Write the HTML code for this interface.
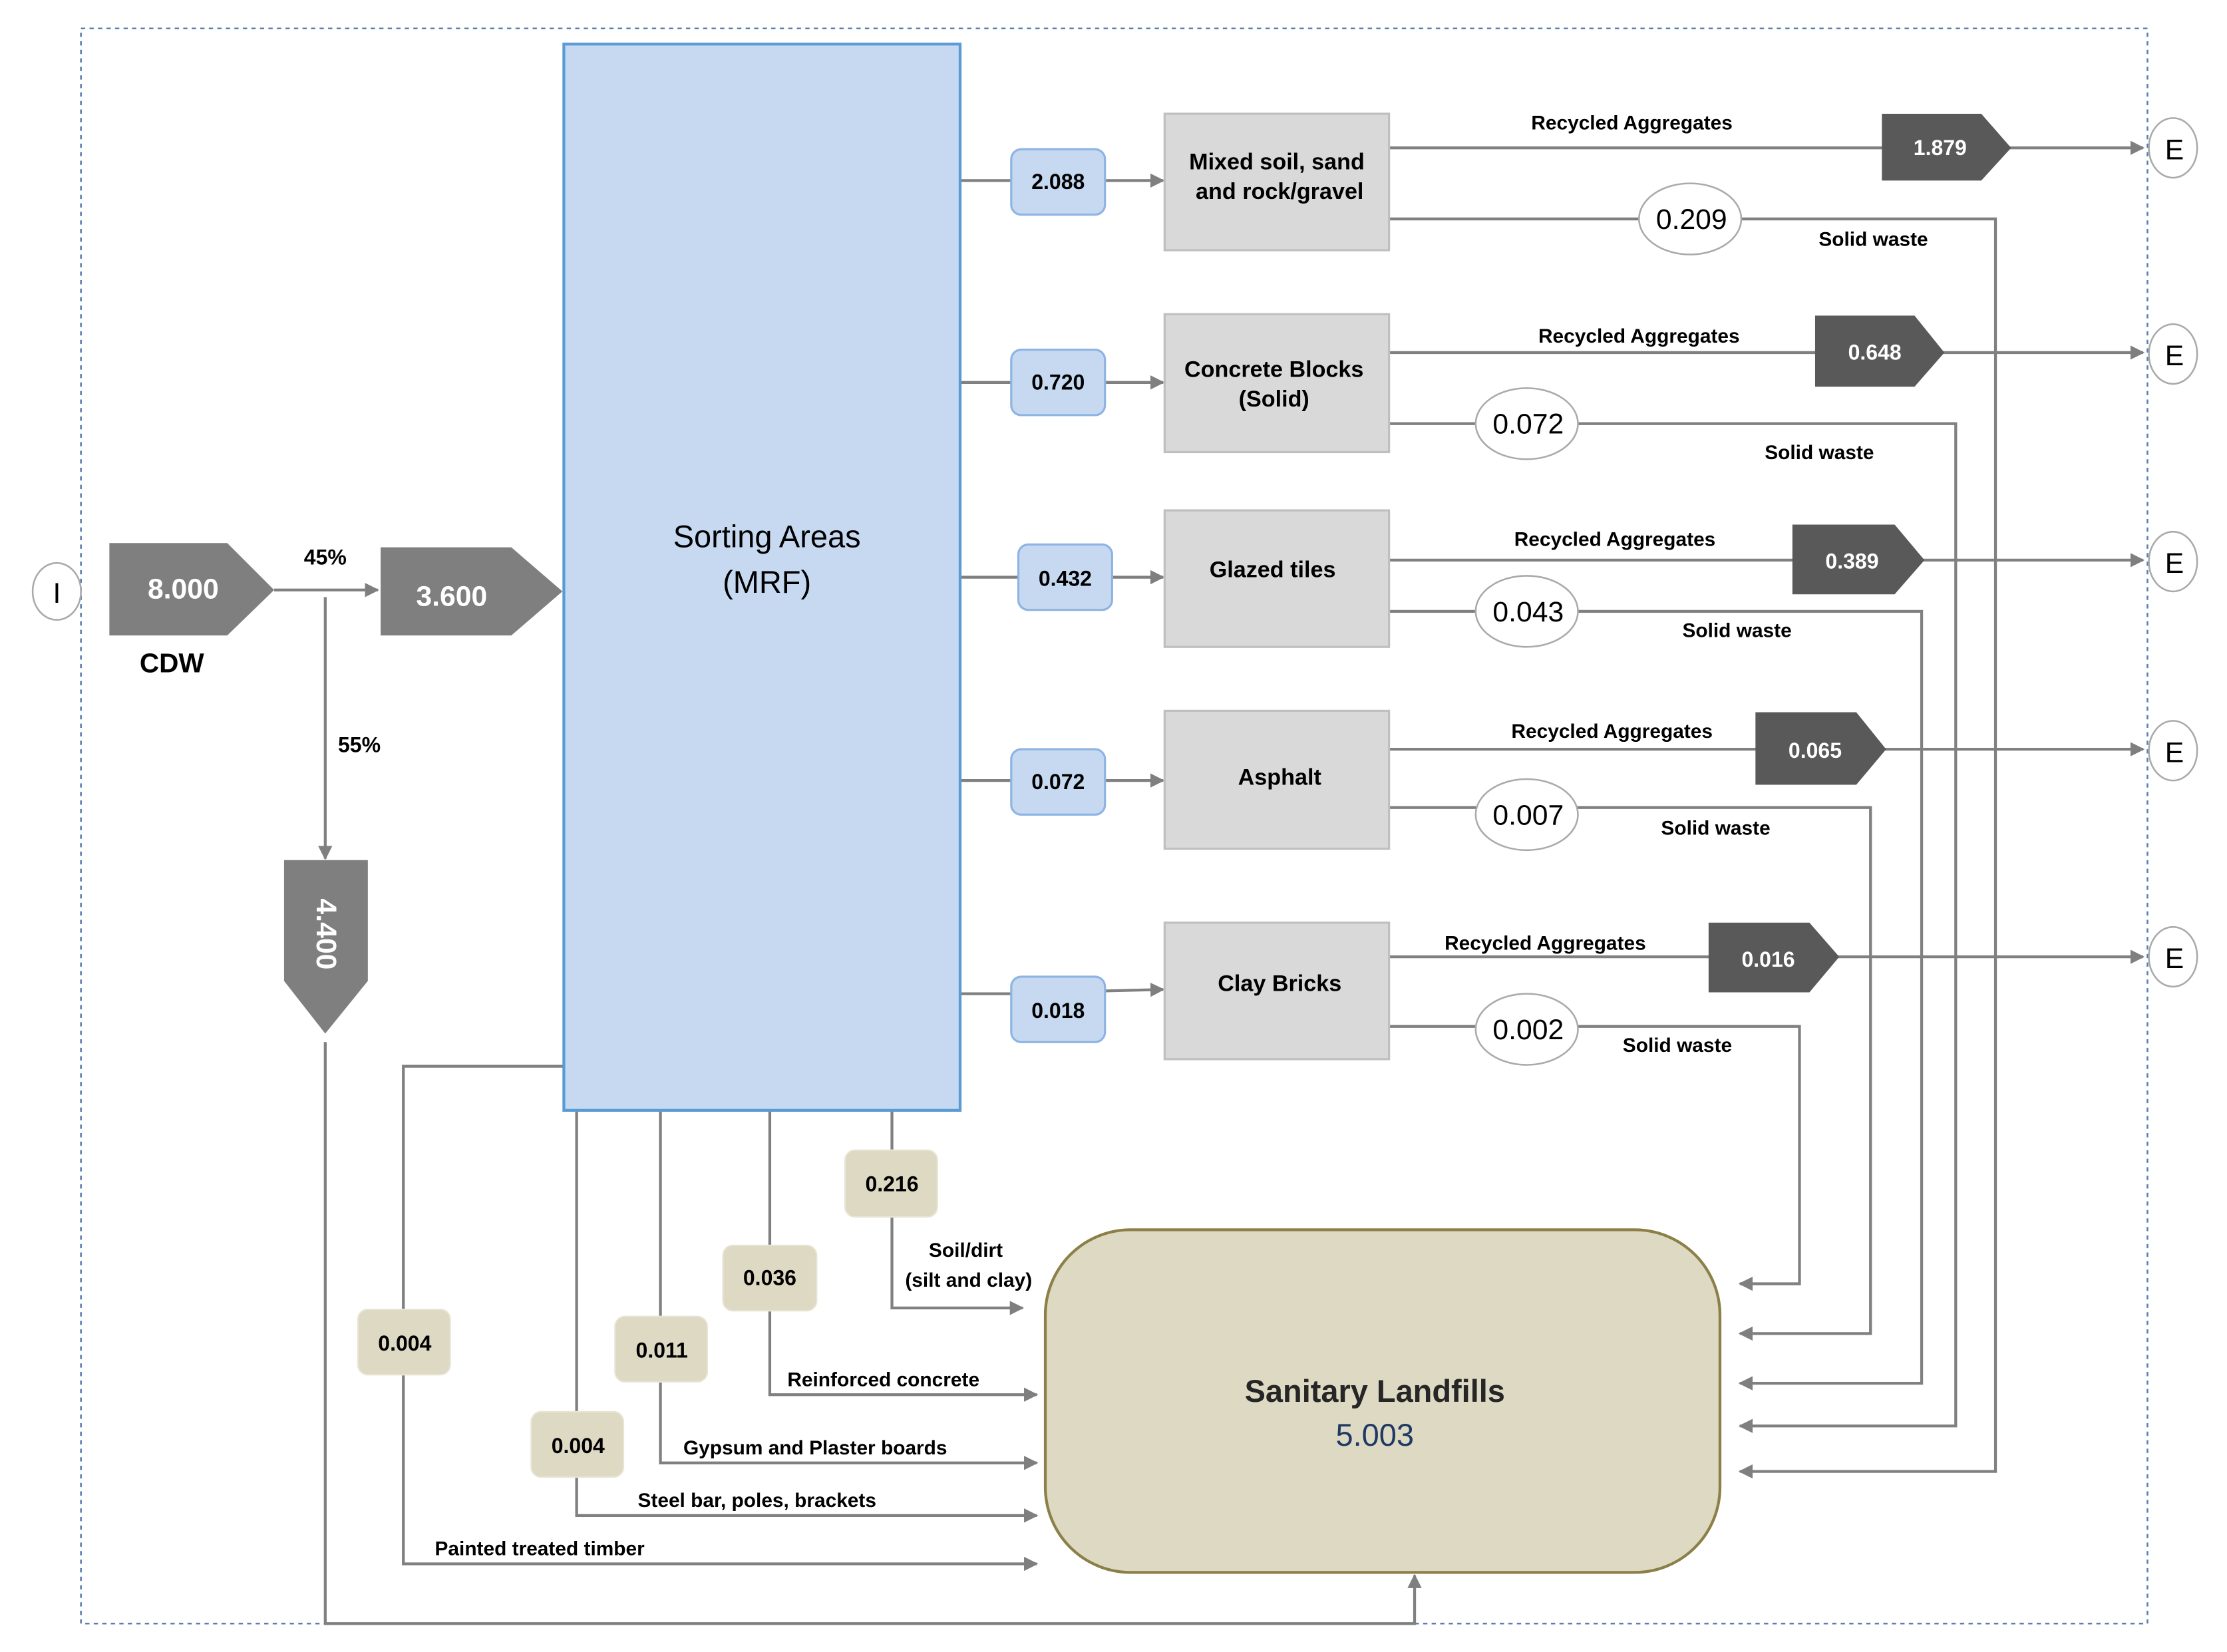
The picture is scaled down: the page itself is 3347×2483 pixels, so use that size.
<!DOCTYPE html>
<html><head><meta charset="utf-8"><style>
html,body{margin:0;padding:0;background:#fff;}
svg{display:block;}
text{font-family:"Liberation Sans",sans-serif;}
.b{font-weight:bold;}
</style></head><body>
<svg width="3347" height="2483" viewBox="0 0 1568 1162" preserveAspectRatio="none" xmlns="http://www.w3.org/2000/svg">
<defs>
<marker id="ar" markerWidth="10" markerHeight="10" refX="9" refY="5" orient="auto" markerUnits="userSpaceOnUse"><path d="M0,0 L10,5 L0,10 z" fill="#7f7f7f"/></marker>
</defs>
<rect x="57" y="20" width="1455" height="1122" fill="none" stroke="#5b7fb5" stroke-width="1.2" stroke-dasharray="3,3"/>

<g stroke="#808080" stroke-width="2" fill="none">
<line x1="193" y1="415" x2="266" y2="415" marker-end="url(#ar)"/>
<line x1="229" y1="420" x2="229" y2="604" marker-end="url(#ar)"/>
<polyline points="229,733 229,1142 996,1142 996,1108" marker-end="url(#ar)"/>
<line x1="676" y1="127" x2="712" y2="127"/><line x1="778" y1="127" x2="819" y2="127" marker-end="url(#ar)"/>
<line x1="676" y1="269" x2="712" y2="269"/><line x1="778" y1="269" x2="819" y2="269" marker-end="url(#ar)"/>
<line x1="676" y1="406" x2="717" y2="406"/><line x1="783" y1="406" x2="819" y2="406" marker-end="url(#ar)"/>
<line x1="676" y1="549" x2="712" y2="549"/><line x1="778" y1="549" x2="819" y2="549" marker-end="url(#ar)"/>
<line x1="676" y1="699" x2="712" y2="699"/><line x1="778" y1="697" x2="819" y2="696" marker-end="url(#ar)"/>
<line x1="978" y1="104" x2="1509" y2="104" marker-end="url(#ar)"/>
<line x1="978" y1="248" x2="1509" y2="248" marker-end="url(#ar)"/>
<line x1="978" y1="394" x2="1509" y2="394" marker-end="url(#ar)"/>
<line x1="978" y1="527" x2="1509" y2="527" marker-end="url(#ar)"/>
<line x1="978" y1="673" x2="1509" y2="673" marker-end="url(#ar)"/>
<polyline points="978,154 1405,154 1405,1035 1225,1035" marker-end="url(#ar)"/>
<polyline points="978,298 1377,298 1377,1003 1225,1003" marker-end="url(#ar)"/>
<polyline points="978,430 1353,430 1353,973 1225,973" marker-end="url(#ar)"/>
<polyline points="978,568 1317,568 1317,938 1225,938" marker-end="url(#ar)"/>
<polyline points="978,722 1267,722 1267,903 1225,903" marker-end="url(#ar)"/>
<polyline points="397,750 284,750 284,1100 730,1100" marker-end="url(#ar)"/>
<polyline points="406,781 406,1066 730,1066" marker-end="url(#ar)"/>
<polyline points="465,781 465,1029 730,1029" marker-end="url(#ar)"/>
<polyline points="542,781 542,981 730,981" marker-end="url(#ar)"/>
<polyline points="628,781 628,920 720,920" marker-end="url(#ar)"/>
</g>

<ellipse cx="40" cy="416" rx="17" ry="20" fill="#fff" stroke="#aaa" stroke-width="1.2"/>
<text x="40" y="424" font-size="20" text-anchor="middle">I</text>
<polygon points="77,382 160,382 193,415 160,447 77,447" fill="#7f7f7f"/>
<text x="129" y="421" font-size="20" fill="#fff" text-anchor="middle" class="b">8.000</text>
<text x="121" y="473" font-size="19" class="b" text-anchor="middle">CDW</text>
<text x="229" y="397" font-size="15" class="b" text-anchor="middle">45%</text>
<polygon points="268,385 360,385 396,416 360,447 268,447" fill="#7f7f7f"/>
<text x="318" y="426" font-size="20" fill="#fff" text-anchor="middle" class="b">3.600</text>
<text x="253" y="529" font-size="15" class="b" text-anchor="middle">55%</text>
<polygon points="200,605 259,605 259,690 229,727 200,690" fill="#7f7f7f"/>
<text transform="translate(223,657) rotate(90)" font-size="20" fill="#fff" text-anchor="middle" class="b">4.400</text>

<rect x="397" y="31" width="279" height="750" fill="#c6d9f1" stroke="#5b9bd5" stroke-width="2"/>
<text x="540" y="385" font-size="22" text-anchor="middle">Sorting Areas</text>
<text x="540" y="417" font-size="22" text-anchor="middle">(MRF)</text>

<g fill="#c6d9f1" stroke="#8eb4e3" stroke-width="1.5">
<rect x="712" y="105" width="66" height="46" rx="7"/>
<rect x="712" y="246" width="66" height="46" rx="7"/>
<rect x="717" y="383" width="66" height="46" rx="7"/>
<rect x="712" y="527" width="66" height="46" rx="7"/>
<rect x="712" y="687" width="66" height="46" rx="7"/>
</g>
<g font-size="15" class="b" text-anchor="middle">
<text x="745" y="133">2.088</text>
<text x="745" y="274">0.720</text>
<text x="750" y="412">0.432</text>
<text x="745" y="555">0.072</text>
<text x="745" y="716">0.018</text>
</g>

<g fill="#d9d9d9" stroke="#bfbfbf" stroke-width="1.5">
<rect x="820" y="80" width="158" height="96"/>
<rect x="820" y="221" width="158" height="97"/>
<rect x="820" y="359" width="158" height="96"/>
<rect x="820" y="500" width="158" height="97"/>
<rect x="820" y="649" width="158" height="96"/>
</g>
<g font-size="16" class="b" text-anchor="middle">
<text x="899" y="119">Mixed soil, sand</text>
<text x="901" y="140">and rock/gravel</text>
<text x="897" y="265">Concrete Blocks</text>
<text x="897" y="286">(Solid)</text>
<text x="896" y="406">Glazed tiles</text>
<text x="901" y="552">Asphalt</text>
<text x="901" y="697">Clay Bricks</text>
</g>

<g fill="#595959">
<polygon points="1325,80 1395,80 1416,104 1395,127 1325,127"/>
<polygon points="1278,222 1348,222 1369,248 1348,272 1278,272"/>
<polygon points="1262,369 1334,369 1355,394 1334,418 1262,418"/>
<polygon points="1236,501 1307,501 1328,527 1307,552 1236,552"/>
<polygon points="1203,649 1274,649 1295,673 1274,698 1203,698"/>
</g>
<g font-size="15" class="b" fill="#fff" text-anchor="middle">
<text x="1366" y="109">1.879</text>
<text x="1320" y="253">0.648</text>
<text x="1304" y="400">0.389</text>
<text x="1278" y="533">0.065</text>
<text x="1245" y="680">0.016</text>
</g>
<g font-size="14" class="b" text-anchor="middle">
<text x="1149" y="91">Recycled Aggregates</text>
<text x="1154" y="241">Recycled Aggregates</text>
<text x="1137" y="384">Recycled Aggregates</text>
<text x="1135" y="519">Recycled Aggregates</text>
<text x="1088" y="668">Recycled Aggregates</text>
<text x="1319" y="173">Solid waste</text>
<text x="1281" y="323">Solid waste</text>
<text x="1223" y="448">Solid waste</text>
<text x="1208" y="587">Solid waste</text>
<text x="1181" y="740">Solid waste</text>
</g>
<g fill="#fff" stroke="#aaa" stroke-width="1.2">
<ellipse cx="1190" cy="154" rx="36" ry="25"/>
<ellipse cx="1075" cy="298" rx="36" ry="25"/>
<ellipse cx="1075" cy="430" rx="36" ry="25"/>
<ellipse cx="1075" cy="573" rx="36" ry="25"/>
<ellipse cx="1075" cy="724" rx="36" ry="25"/>
</g>
<g font-size="20" text-anchor="middle">
<text x="1191" y="161">0.209</text>
<text x="1076" y="305">0.072</text>
<text x="1076" y="437">0.043</text>
<text x="1076" y="580">0.007</text>
<text x="1076" y="731">0.002</text>
</g>
<g fill="#fff" stroke="#aaa" stroke-width="1.2">
<ellipse cx="1530" cy="104" rx="17" ry="21"/>
<ellipse cx="1530" cy="249" rx="17" ry="21"/>
<ellipse cx="1530" cy="395" rx="17" ry="21"/>
<ellipse cx="1530" cy="528" rx="17" ry="21"/>
<ellipse cx="1530" cy="673" rx="17" ry="21"/>
</g>
<g font-size="20" text-anchor="middle">
<text x="1531" y="112">E</text><text x="1531" y="257">E</text><text x="1531" y="403">E</text><text x="1531" y="536">E</text><text x="1531" y="681">E</text>
</g>

<rect x="736" y="865" width="475" height="241" rx="60" fill="#ddd9c3" stroke="#8c8048" stroke-width="2"/>
<text x="968" y="986" font-size="22" class="b" text-anchor="middle" fill="#262626">Sanitary Landfills</text>
<text x="968" y="1017" font-size="22" text-anchor="middle" fill="#1f3864">5.003</text>

<g fill="#ddd9c3" stroke="#e8e5d6" stroke-width="1">
<rect x="595" y="809" width="65" height="47" rx="7"/>
<rect x="509" y="876" width="66" height="46" rx="7"/>
<rect x="433" y="926" width="65" height="46" rx="7"/>
<rect x="252" y="921" width="65" height="46" rx="7"/>
<rect x="374" y="993" width="65" height="46" rx="7"/>
</g>
<g font-size="15" class="b" text-anchor="middle">
<text x="628" y="838">0.216</text>
<text x="542" y="904">0.036</text>
<text x="466" y="955">0.011</text>
<text x="285" y="950">0.004</text>
<text x="407" y="1022">0.004</text>
</g>
<g font-size="14" class="b" text-anchor="middle">
<text x="680" y="884">Soil/dirt</text>
<text x="682" y="905">(silt and clay)</text>
<text x="622" y="975">Reinforced concrete</text>
<text x="574" y="1023">Gypsum and Plaster boards</text>
<text x="533" y="1060">Steel bar, poles, brackets</text>
<text x="380" y="1094">Painted treated timber</text>
</g>
</svg>
</body></html>
